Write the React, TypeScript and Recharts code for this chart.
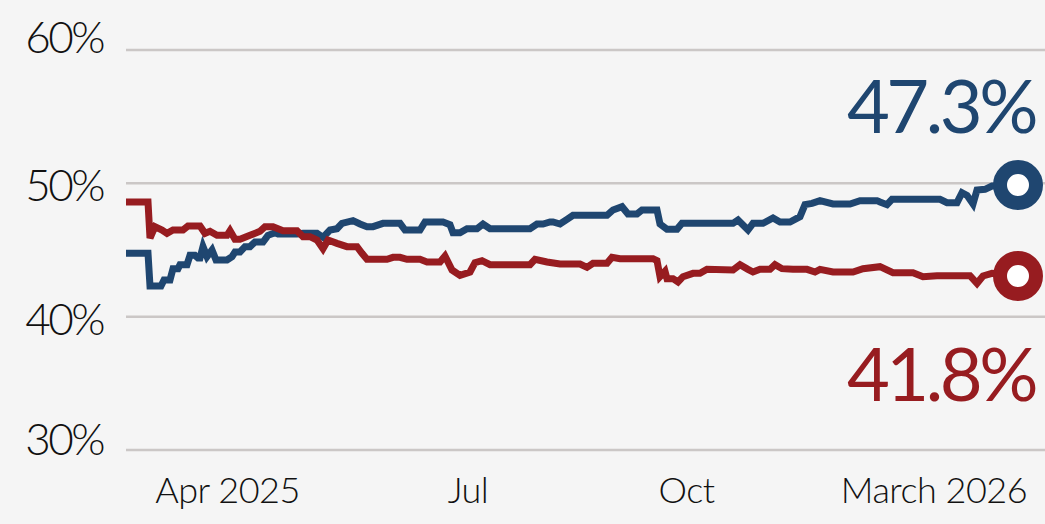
import React from "react";
import { LineChart, Line, XAxis, YAxis, CartesianGrid } from "recharts";

const BLUE = "#1f4670";
const RED = "#971c20";
const GRID = "#cbc7c6";
const FONT = "Lato, 'Open Sans', sans-serif";

// position of each poll along the timeline
const blueT = [
  0, 8.8, 9.6, 14, 15.2, 17.6, 18.8, 20.8, 21.6, 24.4,
  25.6, 27.6, 28.8, 29.6, 30.8, 32.4, 34.4, 36, 40.4, 42.4,
  43.6, 45.6, 47.6, 49.6, 51.6, 54.8, 56.8, 59.6, 60.8, 68.4,
  70.8, 76.4, 78.8, 81.6, 84.4, 86.4, 90.8, 93.6, 96.4, 98.8,
  102.8, 109.6, 111.6, 117.6, 119.6, 126.8, 129.6, 130.8, 133.6, 136.4,
  140.4, 142.8, 145.6, 161.6, 164.4, 166.8, 169.6, 170.8, 173.6, 176.4,
  178.8, 192.4, 194.8, 198.4, 200.8, 204.4, 206.4, 212.4, 213.6, 216.4,
  220.4, 222.4, 242.8, 244.8, 248.8, 250.8, 254.8, 258.8, 261.6, 265.6,
  269.6, 271.6, 274.4, 277.6, 282.8, 289.6, 293.6, 300.4, 301.6, 304.4,
  306.4, 325.6, 328.4, 332.4, 334.4, 336.4, 338.8, 340.4, 343.6, 346.4,
  356.8,
];
const blueShare = [
  44.75, 44.75, 42.3, 42.3, 42.75, 42.75, 43.6, 43.6, 43.9, 43.9,
  44.6, 44.6, 44.4, 44.4, 45.25, 44.5, 45.0, 44.25, 44.25, 44.5,
  44.85, 44.85, 45.25, 45.25, 45.6, 45.6, 46.1, 46.3, 46.2, 46.2,
  46.25, 46.25, 45.95, 46.5, 46.6, 47.0, 47.2, 46.95, 46.75, 46.75,
  47.0, 47.0, 46.5, 46.5, 47.1, 47.1, 46.9, 46.3, 46.3, 46.6,
  46.6, 46.95, 46.6, 46.6, 46.95, 46.95, 47.1, 47.1, 46.95, 47.3,
  47.6, 47.6, 48.0, 48.25, 47.7, 47.7, 48.0, 48.0, 46.95, 46.55,
  46.55, 47.0, 47.0, 47.25, 46.5, 47.0, 47.0, 47.4, 47.1, 47.1,
  47.5, 48.4, 48.5, 48.7, 48.45, 48.45, 48.7, 48.7, 48.6, 48.4,
  48.8, 48.8, 48.55, 48.55, 49.3, 49.1, 48.45, 49.5, 49.55, 49.8,
  49.87,
];

const redT = [
  0, 8.8, 9.6, 11.6, 14.4, 16.4, 18.8, 22.8, 24.8, 29.6,
  31.6, 33.6, 36.4, 40.4, 41.6, 43.6, 45.6, 49.6, 53.6, 55.6,
  58.8, 62.8, 68.4, 70.8, 73.6, 76.4, 78.8, 80.8, 84.4, 88.4,
  92.4, 94.4, 96.4, 104.4, 106.8, 109.6, 112.4, 117.6, 120.4, 125.6,
  127.6, 130.4, 133.6, 137.6, 139.6, 142.4, 145.6, 161.6, 163.6, 168.4,
  173.6, 181.6, 184.4, 186.8, 192.4, 194.4, 197.6, 210.8, 212.4, 213.6,
  215.6, 216.4, 218.8, 220.8, 222.8, 226.8, 229.6, 232.4, 242.8, 245.6,
  248.8, 250.8, 253.6, 257.6, 259.6, 262.4, 266.8, 272.4, 275.6, 277.6,
  282.8, 290.8, 294.8, 301.6, 306.8, 314.8, 318.8, 324.4, 337.6, 340.4,
  342.8, 346.4, 356.8,
];
const redShare = [
  48.6, 48.6, 45.9, 46.75, 46.5, 46.25, 46.5, 46.5, 46.8, 46.8,
  46.25, 46.4, 46.1, 46.1, 46.45, 45.8, 45.8, 46.1, 46.4, 46.75,
  46.75, 46.45, 46.45, 46.0, 46.0, 45.75, 45.1, 45.75, 45.5, 45.25,
  45.25, 44.75, 44.3, 44.3, 44.45, 44.45, 44.3, 44.3, 44.1, 44.1,
  44.55, 43.5, 43.1, 43.35, 44.05, 44.2, 43.9, 43.9, 44.3, 44.1,
  43.95, 43.95, 43.7, 44.0, 44.0, 44.45, 44.35, 44.35, 44.2, 43.0,
  43.4, 42.85, 42.85, 42.6, 43.0, 43.25, 43.25, 43.55, 43.5, 43.9,
  43.55, 43.35, 43.55, 43.55, 43.9, 43.6, 43.55, 43.55, 43.35, 43.55,
  43.35, 43.35, 43.6, 43.75, 43.3, 43.3, 43.0, 43.07, 43.07, 42.5,
  43.05, 43.25, 43.05,
];

const yTicks = [30, 40, 50, 60];
const xTicks = [40.6, 136.8, 224.2, 323.2];
const xTickLabels = ["Apr 2025", "Jul", "Oct", "March 2026"];
const blueLabel = "47.3%";
const redLabel = "41.8%";

const blueData = blueT.map((t, i) => ({ t, v: blueShare[i] }));
const redData = redT.map((t, i) => ({ t, v: redShare[i] }));

// top and bottom labels sit a bit higher than their gridline
const yShift: Record<number, number> = { 60: 3, 50: 18, 40: 18, 30: 5 };

const YTick = (props: any) => {
  const { x, y, payload } = props;
  return (
    <text x={x} y={y + (yShift[payload.value] ?? 16)} textAnchor="end"
      fontFamily={FONT} fontWeight={300} fontSize={44} letterSpacing={-2.5} fill="#111">
      {payload.value}%
    </text>
  );
};

const XTick = (props: any) => {
  const { x, y, index } = props;
  return (
    <text x={x} y={y + 53} textAnchor="middle"
      fontFamily={FONT} fontWeight={300} fontSize={36} letterSpacing={-0.5} fill="#111">
      {xTickLabels[index]}
    </text>
  );
};

const endDot = (color: string, label: string, last: number, dy: number) => (props: any) => {
  const { cx, cy, index } = props;
  if (index !== last) return <g key={`d-${index}`} />;
  return (
    <g key="end">
      <circle cx={cx} cy={cy} r={18} fill="#fff" stroke={color} strokeWidth={14} />
      <text x={cx + 17} y={cy + dy} textAnchor="end" fontFamily={FONT}
        fontSize={74} letterSpacing={-3.5} fill={color}>
        {label}
      </text>
    </g>
  );
};

export default function App() {
  return (
    <div style={{ position: "absolute", left: 0, top: 0, width: 1045, height: 524, background: "#f5f5f5" }}>
      <LineChart width={1045} height={524} margin={{ top: 50, right: 0, bottom: 0, left: 0 }}>
        <CartesianGrid vertical={false} stroke={GRID} strokeWidth={2.5} />
        <XAxis dataKey="t" type="number" domain={[0, 367.6]} ticks={xTicks}
          axisLine={false} tickLine={false} tickSize={0} tickMargin={0}
          height={74} interval={0} tick={<XTick />} allowDataOverflow />
        <YAxis type="number" domain={[30, 60]} ticks={yTicks} width={126}
          axisLine={false} tickLine={false} tickSize={0} tickMargin={23}
          interval={0} tick={<YTick />} />
        <Line data={blueData} dataKey="v" type="linear" stroke={BLUE} strokeWidth={7}
          dot={endDot(BLUE, blueLabel, blueData.length - 1, -52)} activeDot={false}
          isAnimationActive={false} />
        <Line data={redData} dataKey="v" type="linear" stroke={RED} strokeWidth={7}
          dot={endDot(RED, redLabel, redData.length - 1, 125)} activeDot={false}
          isAnimationActive={false} />
      </LineChart>
    </div>
  );
}
